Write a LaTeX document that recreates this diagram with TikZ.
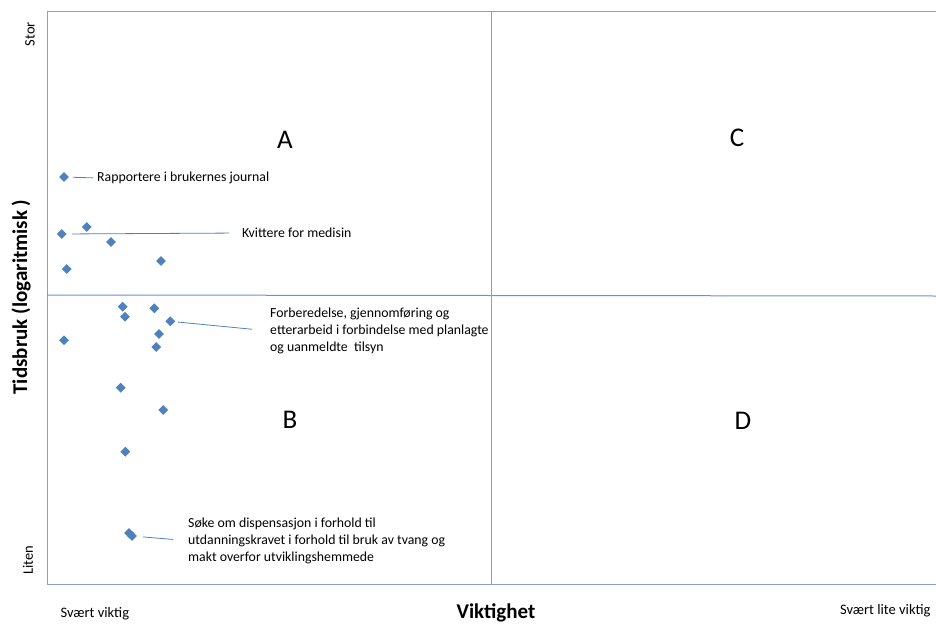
\documentclass[tikz,border=0pt]{standalone}
\usepackage{fontspec}
\setmainfont{Carlito}
\usetikzlibrary{shapes.geometric}
\definecolor{frameblue}{RGB}{134,160,201}
\definecolor{seriesblue}{RGB}{79,129,189}

\begin{document}
\begin{tikzpicture}[x=1pt,y=-1pt,
    pt/.style={diamond, fill=seriesblue, inner sep=0pt, minimum width=10pt, minimum height=10pt},
    lbl/.style={anchor=west, inner sep=0pt, align=left, font=\fontsize{13.8}{17}\selectfont},
    leader/.style={seriesblue, line width=0.8pt},
    quad/.style={font=\fontsize{27}{30}\selectfont},
    small/.style={font=\fontsize{14.5}{16}\selectfont},
    axis/.style={font=\bfseries\fontsize{21}{24}\selectfont}]
    \useasboundingbox (0,0) rectangle (936,626);
    \clip (0,0) rectangle (936,626);

    % Plot frame
    \draw[frameblue, line width=1pt] (936,12) -- (47,12) -- (47,584) -- (936,584);

    % Quadrant lines
    \draw[seriesblue!85, line width=1pt] (47,295) -- (936,296);
    \draw[frameblue, line width=1pt] (491,12) -- (491,584);

    % Quadrant letters
    \node[quad] (qa) at (285,140) {A};
    \node[quad] (qb) at (290,420) {B};
    \node[quad] (qc) at (737,138) {C};
    \node[quad] (qd) at (743,421) {D};

    % Points
    \foreach \x/\y [count=\i] in {86.7/227, 111/242, 66.7/269, 161/261, 122.7/306.7,
        125/316.7, 154.3/308.3, 159/334, 156.3/347, 64/340.3, 120.7/387.7,
        163.3/410, 125.3/451.7, 129/533}
        \node[pt] (q\i) at (\x,\y) {};
    \node[pt] (p1) at (64,177) {};
    \node[pt] (p2) at (61.7,234) {};
    \node[pt] (p3) at (170.3,321.3) {};
    \node[pt] (p4) at (132,536) {};

    % Labels
    \node[lbl] (rapp) at (97,178) {Rapportere i brukernes journal};
    \node[lbl] (kvit) at (242,233) {Kvittere for medisin};
    \node[lbl] (forb) at (270,331) {Forberedelse, gjennomføring og\\etterarbeid i forbindelse med planlagte\\og uanmeldte~ tilsyn};
    \node[lbl] (soke) at (188,540.7) {Søke om dispensasjon i forhold til\\utdanningskravet i forhold til bruk av tvang og\\makt overfor utviklingshemmede};

    % Leaders
    \draw[leader, shorten <=4pt, shorten >=4pt] (p1) -- (rapp.west);
    \draw[leader, shorten <=5pt, shorten >=13pt] (p2) -- (kvit.west);
    \draw[leader, shorten <=3pt, shorten >=18pt] (p3) -- (forb.west);
    \draw[leader, shorten <=6pt, shorten >=15pt] (p4) -- (soke.west);

    % Axis texts
    \node[small, anchor=west] (svv) at (57,614) {Svært viktig};
    \node[small, anchor=east] (slv) at (934,611) {Svært lite viktig};
    \node[axis, anchor=base] (vik) at (496,618) {Viktighet};
    \node[axis, rotate=90] (tid) at (21,297) {Tidsbruk (logaritmisk )};
    \node[small, rotate=90] (stor) at (30,34) {Stor};
    \node[small, rotate=90] (liten) at (28,560) {Liten};
\end{tikzpicture}
\end{document}
